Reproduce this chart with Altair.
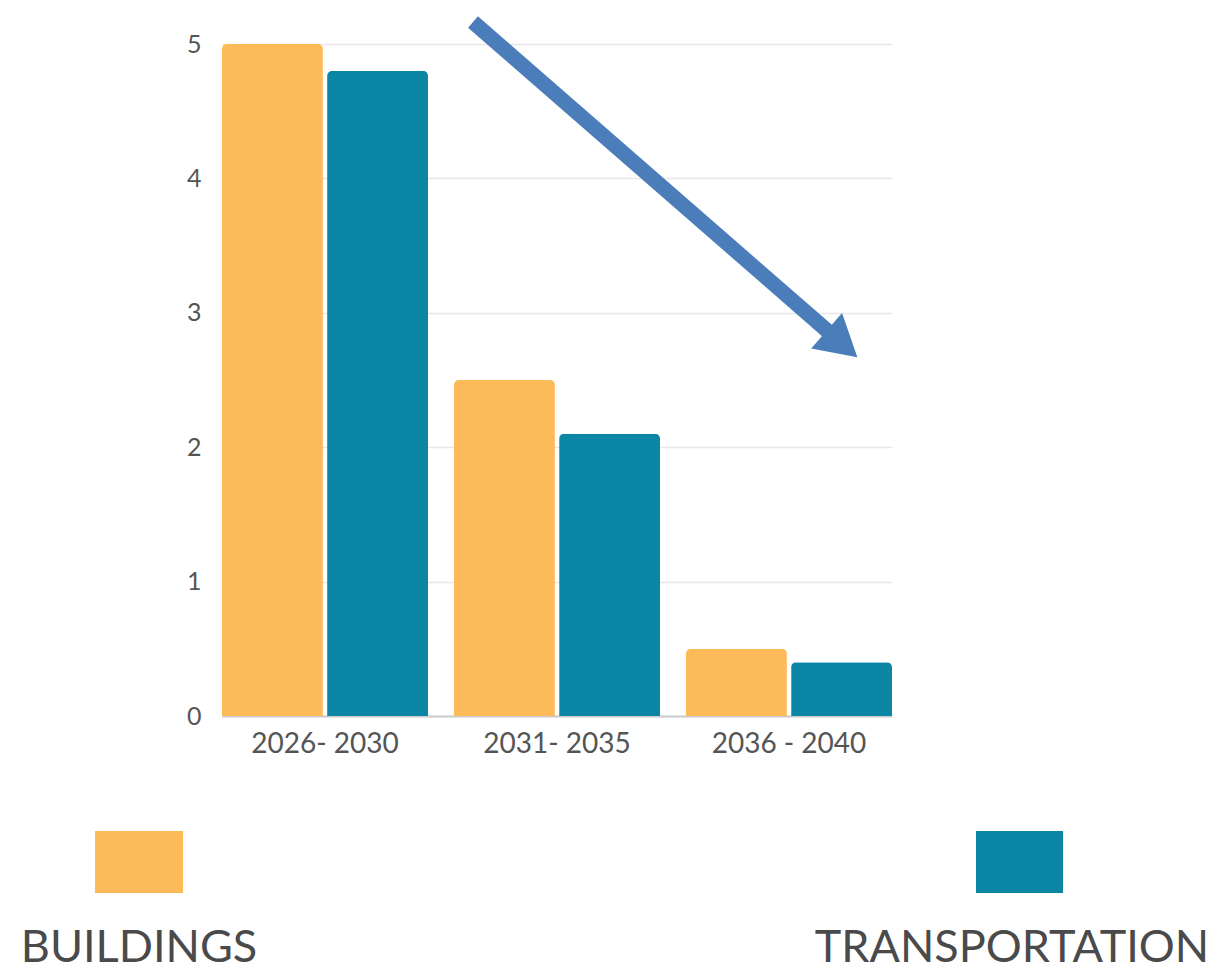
import altair as alt
import pandas as pd

periods = ["2026- 2030", "2031- 2035", "2036 - 2040"]
series = ["BUILDINGS", "TRANSPORTATION"]
buildings = [5.0, 2.5, 0.5]
transportation = [4.8, 2.1, 0.4]
colors = ["#FDBA58", "#0B87A5"]
arrow_color = "#4A7DB9"

rows = []
for i, p in enumerate(periods):
    rows.append({"period": p, "series": series[0], "value": buildings[i]})
    rows.append({"period": p, "series": series[1], "value": transportation[i]})
df = pd.DataFrame(rows)

FONT = "Lato"

bars = alt.Chart(df).mark_bar(cornerRadiusTopLeft=5, cornerRadiusTopRight=5).encode(
    x=alt.X("period:N", sort=periods, title=None,
            scale=alt.Scale(paddingInner=0.112, paddingOuter=0),
            axis=alt.Axis(labelAngle=0, labelFontSize=28, labelColor="#555555",
                          labelFont=FONT, labelPadding=14, ticks=False,
                          domainColor="#cccccc", domainWidth=2)),
    xOffset=alt.XOffset("series:N", sort=series, scale=alt.Scale(paddingInner=0.04)),
    y=alt.Y("value:Q", title=None, scale=alt.Scale(domain=[0, 5]),
            axis=alt.Axis(values=[0, 1, 2, 3, 4, 5], labelFontSize=25, labelColor="#555555",
                          labelFont=FONT, labelPadding=21, ticks=False, domain=False,
                          gridColor="#e8e8e8", gridWidth=1.5)),
    color=alt.Color("series:N", sort=series,
                    scale=alt.Scale(domain=series, range=colors), legend=None),
)

# arrow annotation (pixel space)
shaft = alt.Chart(pd.DataFrame({"a": [0]})).mark_rule(
    color=arrow_color, strokeWidth=15, strokeCap="butt"
).encode(x=alt.value(251), y=alt.value(-22), x2=alt.value(609), y2=alt.value(290))

head = alt.Chart(pd.DataFrame({"a": [0]})).mark_point(
    shape="triangle-up", filled=True, color=arrow_color, opacity=1,
    size=2209, angle=131, strokeWidth=0
).encode(x=alt.value(620), y=alt.value(300))

layers = [bars, shaft, head]

legend_pos = [
    {"x": -127, "x2": -39, "tx": -83},
    {"x": 754, "x2": 841, "tx": 790},
]
for name, col, pos in zip(series, colors, legend_pos):
    ldf = pd.DataFrame({"series": [name]})
    layers.append(
        alt.Chart(ldf).mark_rect(color=col).encode(
            x=alt.value(pos["x"]), x2=alt.value(pos["x2"]),
            y=alt.value(787), y2=alt.value(849))
    )
    layers.append(
        alt.Chart(ldf).mark_text(align="center", baseline="bottom", fontSize=45,
                                 font=FONT, color="#4a4a4a").encode(
            x=alt.value(pos["tx"]), y=alt.value(927), text="series:N")
    )

chart = alt.layer(*layers).properties(
    width=670, height=672,
    autosize=alt.AutoSizeParams(type="none"),
    padding={"left": 214, "top": 36, "right": 324, "bottom": 256},
).configure_view(stroke=None)

chart.save("out.html", embed_options={"renderer": "svg", "actions": False})
